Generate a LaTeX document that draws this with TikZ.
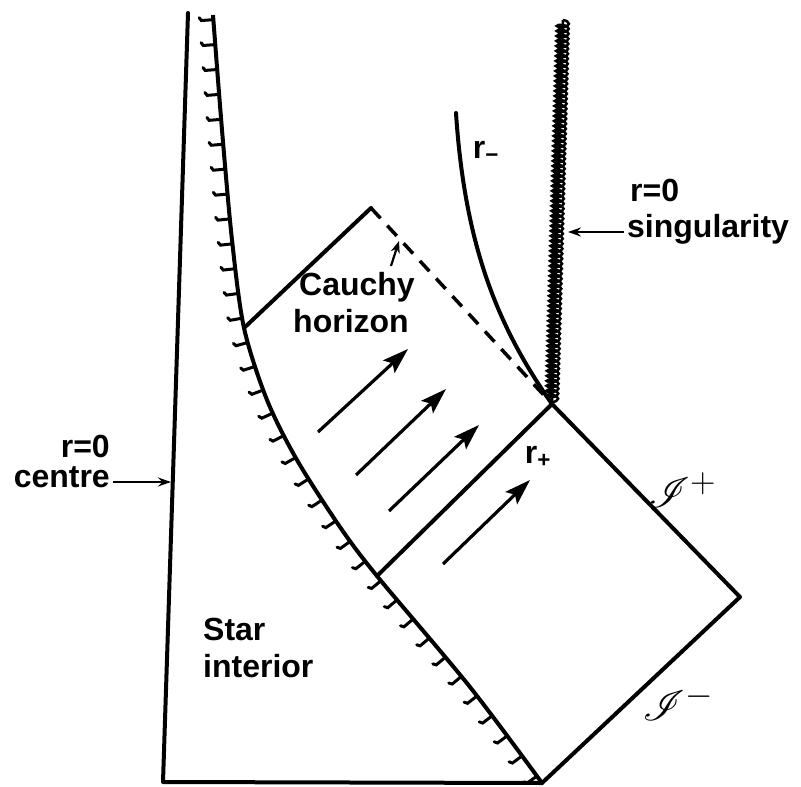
\documentclass[tikz,border=0pt]{standalone}
\usepackage{fontspec}
\setmainfont{Liberation Sans}
\usepackage{amsmath}
\usepackage{mathrsfs}
\usetikzlibrary{arrows.meta,positioning,decorations.markings,decorations.pathmorphing}

\begin{document}
\begin{tikzpicture}[
        x=1pt, y=-1pt,
        every node/.style={inner sep=0pt, font=\fontsize{32}{36}\selectfont\bfseries},
        edge/.style={draw, line width=4pt, line cap=round, line join=round},
        horizon/.style={draw, line width=3.5pt, dash pattern=on 14pt off 10pt},
        flow/.style={draw, line width=3.2pt, -{Stealth[length=26pt, width=17pt, inset=5pt]}},
        pointer/.style={draw, line width=2.2pt, -{Stealth[length=13pt, width=9pt]}},
        surface/.style={draw, line width=4pt,
            postaction={decorate, decoration={markings,
                mark=between positions 0.01 and 1 step 25pt with
                {\draw[line width=3pt, line cap=round] (0pt,0pt) -- (0pt,12pt) -- (3pt,14pt);}}}},
        singular/.style={draw, line width=2.5pt, decorate,
            decoration={coil, amplitude=6pt, segment length=5pt, aspect=0.4}},
    ]
    \useasboundingbox (0,0) rectangle (801,787);

    % === CORNERS ===
    \coordinate (ctop) at (188,13);
    \coordinate (cbot) at (163,782);
    \coordinate (sbot) at (542,783);
    \coordinate (right) at (740,597);
    \coordinate (J) at (552,404);
    \coordinate (rpb) at (377,576);
    \coordinate (chl) at (244,328);
    \coordinate (cht) at (371,208);
    \coordinate (stop) at (563,20);
    \coordinate (rmt) at (456,113);

    % === STAR ===
    \draw[edge] (ctop) -- (cbot) -- (sbot);
    \draw[surface] plot[smooth] coordinates {(sbot) (470,687) (rpb) (340,527) (297,460)
        (267,400) (chl) (232,240) (222,130) (213,15)};

    % === BLACK HOLE ===
    \draw[edge] (rpb) -- (J) -- (right) -- (sbot);
    \draw[edge] (chl) -- (cht);
    \draw[horizon] (cht) -- (J);
    \draw[edge] (rmt) .. controls (465,250) and (500,330) .. (J);
    \draw[line width=2.5pt] (stop) -- (J);
    \draw[singular] (stop) -- (J);

    % === INFALLING RADIATION ===
    \draw[flow] (318,432) -- (408,349);
    \draw[flow] (356,475) -- (446,389);
    \draw[flow] (389,511) -- (479,425);
    \draw[flow] (443,564) -- (530,480);

    % === LABELS ===
    \node[anchor=base east] (rzc) at (110,457) {r=0};
    \node[anchor=base east] (centre) at (110,487) {centre};
    \coordinate (cpt) at (171,482);
    \draw[pointer] ([xshift=3pt]centre.east |- cpt) -- (cpt);

    \node[anchor=base west] (rzs) at (630,201) {r=0};
    \node[anchor=base west] (sing) at (627,237) {singularity};
    \coordinate (spt) at (568,232);
    \draw[pointer] ([xshift=-3pt]sing.west |- spt) -- (spt);

    \node[anchor=base] (cauchy) at (357,295) {Cauchy};
    \node[anchor=base] (hor) at (351,332) {horizon};
    \coordinate (cpoint) at (399,241);
    \draw[line width=2.2pt, -{Stealth[length=12pt, width=9pt]}] (391,266) -- (cpoint);

    \node[anchor=base west] (star) at (203,640) {Star};
    \node[anchor=base west] (inter) at (203,677) {interior};

    \node (rminus) at (486,152) {r\textsubscript{−}};
    \node (rplus) at (538,457) {r\textsubscript{+}};
    \node (scrip) at (682,490) {\scalebox{1.7}{$\mathscr{I}^{+}$}};
    \node (scrim) at (678,703) {\scalebox{1.7}{$\mathscr{I}^{-}$}};

\end{tikzpicture}
\end{document}
